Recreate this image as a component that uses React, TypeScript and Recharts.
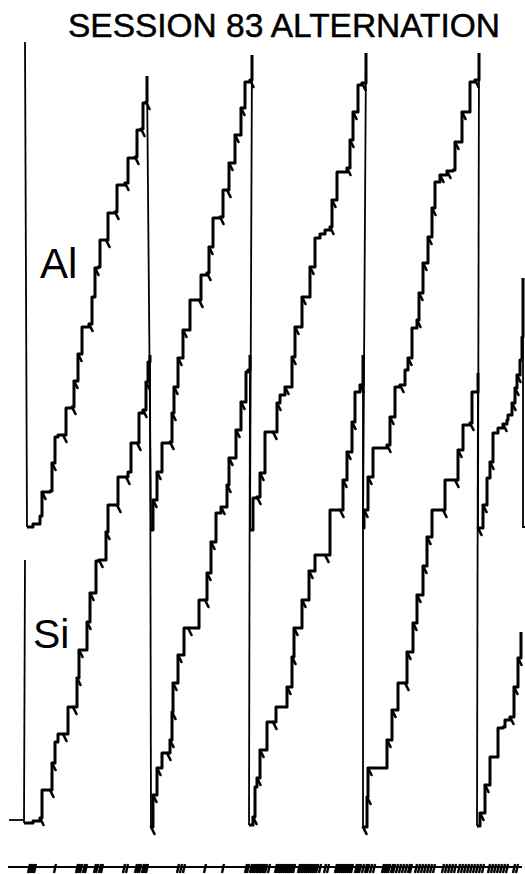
import React from 'react';
import { ComposedChart, Line, Scatter, XAxis, YAxis } from 'recharts';

// Each vertex: [time, pen position, pip(1 = reinforcement mark)]
type V = [number, number, number?];

// ---- "Al" cumulative record (upper pen) ----
const alStart: V[] = [[25, 42], [27, 527]];
const al1: V[] = [
  [27, 527, 0], [33, 524, 0], [40, 516, 0], [42, 492, 1], [50, 491, 0], [52, 463, 1], [55, 437, 0], [58, 435, 0],
  [63, 435, 1], [66, 408, 0], [72, 407, 1], [74, 381, 1], [78, 354, 1], [82, 327, 0], [89, 324, 1], [92, 297, 0],
  [95, 268, 1], [98, 267, 0], [100, 240, 0], [106, 240, 1], [108, 213, 0], [115, 212, 1], [117, 185, 0], [125, 183, 1],
  [128, 158, 0], [135, 157, 1], [137, 130, 0], [141, 129, 1], [143, 103, 0], [146, 102, 1], [147, 76, 0],
];
const al2: V[] = [
  [151, 530, 0], [153, 500, 1], [157, 472, 1], [162, 443, 0], [170, 442, 1], [172, 413, 1], [174, 387, 1], [178, 358, 1],
  [183, 330, 1], [190, 300, 0], [199, 300, 1], [201, 275, 0], [207, 273, 1], [209, 247, 1], [213, 218, 0], [220, 217, 1],
  [223, 190, 0], [227, 190, 1], [229, 163, 1], [235, 135, 1], [241, 108, 1], [245, 82, 0], [250, 80, 1], [252, 55, 0],
];
const al3: V[] = [
  [250, 530, 0], [253, 498, 0], [257, 497, 1], [260, 473, 1], [265, 432, 0], [273, 432, 1], [277, 403, 1], [280, 395, 0],
  [285, 387, 1], [292, 357, 1], [295, 327, 1], [302, 297, 1], [310, 267, 1], [315, 238, 0], [320, 234, 0], [325, 230, 0],
  [330, 227, 1], [332, 200, 1], [337, 172, 0], [347, 168, 1], [350, 140, 1], [353, 112, 1], [358, 85, 0], [362, 83, 1],
  [366, 53, 0],
];
const al4: V[] = [
  [363, 528, 0], [364, 510, 1], [368, 477, 1], [373, 448, 0], [387, 445, 1], [390, 417, 1], [395, 387, 0], [400, 385, 1],
  [405, 370, 0], [408, 358, 1], [412, 328, 0], [417, 320, 1], [419, 293, 1], [423, 263, 1], [428, 237, 1], [432, 208, 1],
  [435, 182, 0], [440, 175, 1], [447, 171, 1], [453, 170, 0], [455, 142, 1], [462, 112, 1], [470, 82, 0], [475, 80, 1],
  [479, 53, 0],
];
const al5: V[] = [
  [478, 528, 1], [483, 505, 1], [487, 478, 0], [490, 462, 1], [493, 433, 0], [498, 428, 0], [503, 424, 1], [507, 420, 0],
  [508, 415, 0], [512, 403, 1], [515, 388, 1], [517, 375, 1], [520, 360, 0], [522, 337, 0], [523, 278, 0],
];
const alEnd: V[] = [[523, 278], [523, 527], [526, 527]];

// ---- "Si" cumulative record (lower pen) ----
const siLead: V[] = [[9, 820], [23, 820]];
const siStart: V[] = [[25, 560], [24, 823]];
const si1: V[] = [
  [24, 823, 0], [33, 821, 0], [40, 818, 1], [42, 790, 0], [50, 790, 1], [52, 763, 1], [55, 742, 0], [58, 734, 0],
  [63, 734, 1], [68, 707, 0], [73, 707, 1], [77, 678, 1], [79, 650, 1], [87, 622, 1], [90, 593, 1], [96, 561, 0],
  [99, 560, 1], [106, 532, 1], [108, 505, 0], [117, 505, 1], [118, 477, 0], [126, 477, 1], [128, 472, 0], [131, 443, 0],
  [137, 443, 1], [139, 413, 0], [143, 410, 1], [146, 382, 1], [148, 362, 0], [150, 355, 0],
];
const si2: V[] = [
  [151, 827, 1], [153, 795, 1], [157, 768, 1], [162, 753, 0], [167, 753, 1], [170, 740, 1], [172, 712, 1], [173, 683, 1],
  [178, 655, 1], [184, 628, 0], [188, 628, 1], [198, 628, 0], [199, 600, 0], [205, 600, 1], [207, 573, 1], [211, 542, 1],
  [216, 513, 0], [221, 507, 1], [227, 485, 1], [229, 458, 1], [236, 430, 1], [241, 402, 1], [246, 372, 0], [248, 370, 0],
  [250, 355, 0],
];
const si3: V[] = [
  [249, 825, 0], [253, 817, 1], [255, 787, 0], [257, 778, 1], [260, 750, 1], [267, 722, 0], [273, 722, 1], [276, 707, 0],
  [285, 707, 0], [287, 687, 1], [292, 657, 1], [294, 628, 1], [302, 600, 1], [309, 571, 1], [315, 555, 0], [325, 555, 1],
  [330, 510, 0], [340, 510, 1], [343, 480, 1], [347, 452, 1], [352, 422, 1], [355, 392, 0], [360, 385, 1], [363, 355, 0],
];
const si4: V[] = [
  [363, 827, 1], [367, 797, 1], [368, 768, 1], [385, 768, 0], [387, 740, 1], [392, 710, 1], [398, 683, 0], [405, 683, 1],
  [407, 652, 1], [413, 623, 1], [417, 595, 1], [423, 566, 1], [427, 537, 1], [432, 510, 0], [443, 510, 1], [445, 480, 0],
  [455, 480, 1], [458, 450, 1], [463, 425, 0], [470, 423, 1], [472, 392, 0], [477, 392, 0], [478, 373, 0],
];
const si5: V[] = [
  [477, 826, 0], [480, 813, 1], [485, 785, 1], [490, 757, 0], [495, 757, 0], [498, 728, 0], [503, 727, 0], [505, 720, 0],
  [510, 717, 1], [514, 687, 1], [518, 658, 1], [521, 632, 0],
];

// ---- event pen (bottom line) ----
const eventLine: V[] = [[8, 867], [522, 867]];
const eventTimes: number[] = [
  29, 31, 33, 35, 55, 77, 79, 81, 84, 86, 95, 97, 100, 102, 124, 127, 136, 138, 140, 143, 145, 147,
  178, 181, 184, 205, 223, 246, 248, 251, 253, 255, 258, 261, 263, 266, 257, 260, 264, 269,
  276, 278, 280, 282, 284, 286, 288, 290, 292, 294, 299, 301, 303, 305, 307, 309, 311, 313, 315, 317, 320,
  325, 328, 336, 338, 340, 342, 344, 346, 348, 350, 352, 356, 358, 360, 363, 366, 368, 371, 374,
  383, 385, 387, 389, 392, 394, 397, 400, 403, 406, 409, 411, 416, 419, 422, 425, 428, 431, 434,
  443, 446, 449, 452, 455, 459, 462, 465, 468, 471, 474, 477, 480, 483, 489, 492, 495, 498, 501, 504, 507, 514, 517,
];

const alSegments = [al1, al2, al3, al4, al5];
const siSegments = [si1, si2, si3, si4, si5];

const toPts = (arr: V[]) => arr.map(([x, y, pip]) => ({ x, y, pip: pip || 0 }));
const resetsOf = (segs: V[][]) =>
  segs.slice(1).map((s, i) => {
    const prev = segs[i];
    return [prev[prev.length - 1], s[0]] as V[];
  });

const thinLines: V[][] = [alStart, alEnd, siStart, siLead, ...resetsOf(alSegments), ...resetsOf(siSegments)];
const stepLines: V[][] = [...alSegments, ...siSegments];
const eventPts = eventTimes.map((x) => ({ x, y: 867 }));

const renderPip = (props: any) => {
  const { cx, cy, payload, index } = props;
  if (!payload || !payload.pip || cx == null) return <g key={`n${index}`} />;
  return (
    <path
      key={`p${index}`}
      d={`M${cx},${cy} L${cx + 3.5},${cy + 7}`}
      stroke="#000"
      strokeWidth={2.6}
      strokeLinecap="round"
      fill="none"
    />
  );
};

const EventMark = (props: any) => {
  const { cx, cy } = props;
  return <path d={`M${cx + 1},${cy - 3} L${cx - 1},${cy + 6}`} stroke="#000" strokeWidth={2.4} fill="none" />;
};

export default function App() {
  return (
    <div style={{ position: 'absolute', left: 0, top: 0, width: 525, height: 874, background: '#fff' }}>
      <ComposedChart width={525} height={874} margin={{ top: 0, right: 0, bottom: 0, left: 0 }}>
        <XAxis dataKey="x" type="number" domain={[0, 525]} allowDataOverflow hide />
        <YAxis dataKey="y" type="number" domain={[0, 874]} reversed allowDataOverflow hide />
        {thinLines.map((l, i) => (
          <Line
            key={`t${i}`}
            data={toPts(l)}
            dataKey="y"
            type="linear"
            stroke="#000"
            strokeWidth={1.8}
            dot={false}
            activeDot={false}
            isAnimationActive={false}
          />
        ))}
        {stepLines.map((l, i) => (
          <Line
            key={`s${i}`}
            data={toPts(l)}
            dataKey="y"
            type="stepAfter"
            stroke="#000"
            strokeWidth={3}
            strokeLinejoin="round"
            dot={renderPip}
            activeDot={false}
            isAnimationActive={false}
          />
        ))}
        <Line
          data={toPts(eventLine)}
          dataKey="y"
          type="linear"
          stroke="#000"
          strokeWidth={2.2}
          dot={false}
          activeDot={false}
          isAnimationActive={false}
        />
        <Scatter data={eventPts} dataKey="y" shape={<EventMark />} isAnimationActive={false} />
      </ComposedChart>
      <svg
        width={525}
        height={874}
        style={{ position: 'absolute', left: 0, top: 0, pointerEvents: 'none' }}
      >
        <text
          x={68}
          y={37}
          fontFamily="'Liberation Sans', Arial, sans-serif"
          fontSize={34}
          textLength={432}
          lengthAdjust="spacingAndGlyphs"
          stroke="#000"
          strokeWidth={0.5}
          fill="#000"
        >
          SESSION 83 ALTERNATION
        </text>
        <text x={40} y={278} fontFamily="'Liberation Sans', Arial, sans-serif" fontSize={42} fill="#000">
          Al
        </text>
        <text x={33} y={648} fontFamily="'Liberation Sans', Arial, sans-serif" fontSize={41} fill="#000">
          Si
        </text>
      </svg>
    </div>
  );
}
